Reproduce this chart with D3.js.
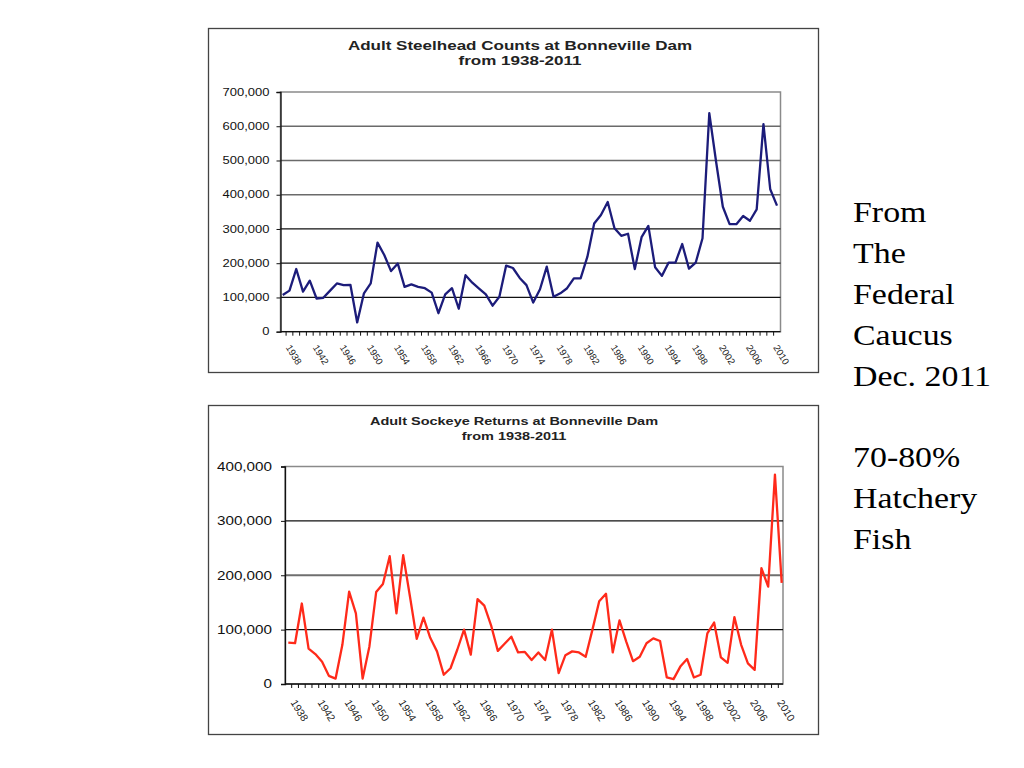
<!DOCTYPE html>
<html><head><meta charset="utf-8">
<script src="https://cdn.jsdelivr.net/npm/d3@7"></script>
<style>body{margin:0;background:#fff}svg{display:block}</style>
</head><body><svg id="c" width="1024" height="768"></svg>
<script>
// ---------- DATA ----------
const years = [1938,1939,1940,1941,1942,1943,1944,1945,1946,1947,1948,1949,
  1950,1951,1952,1953,1954,1955,1956,1957,1958,1959,
  1960,1961,1962,1963,1964,1965,1966,1967,1968,1969,
  1970,1971,1972,1973,1974,1975,1976,1977,1978,1979,
  1980,1981,1982,1983,1984,1985,1986,1987,1988,1989,
  1990,1991,1992,1993,1994,1995,1996,1997,1998,1999,
  2000,2001,2002,2003,2004,2005,2006,2007,2008,2009,
  2010,2011];
const steelhead = [107000,120000,183000,117000,149000,97000,99000,120000,141000,136000,137000,27000,
  112000,141000,260000,224000,177000,199000,131000,138000,131000,127000,
  114000,54000,109000,127000,67000,165000,143000,126000,109000,76000,
  102000,193000,186000,157000,136000,85000,124000,190000,102000,112000,
  127000,156000,156000,219000,316000,341000,379000,302000,280000,286000,
  183000,276000,309000,188000,163000,202000,202000,256000,184000,202000,
  273000,638000,497000,365000,314000,314000,338000,324000,357000,606000,
  416000,368000];
const sockeye = [76000,75000,148000,65000,55000,41000,15000,10000,72000,170000,130000,10000,
  69000,169000,184000,235000,130000,237000,161000,83000,122000,85000,
  60000,17000,29000,63000,100000,54000,156000,144000,108000,61000,
  74000,87000,58000,59000,44000,58000,44000,100000,20000,53000,
  60000,58000,50000,100000,152000,166000,58000,117000,78000,42000,
  50000,75000,84000,79000,12000,9000,32000,46000,12000,17000,
  93000,113000,49000,39000,123000,72000,38000,26000,213000,179000,
  385000,186000];
const steelheadTicks = [0,100000,200000,300000,400000,500000,600000,700000];
const sockeyeTicks = [0,100000,200000,300000,400000];
const yearLabels = [1938,1942,1946,1950,1954,1958,1962,1966,1970,1974,1978,1982,1986,1990,1994,1998,2002,2006,2010];
const steelheadTitle = ["Adult Steelhead Counts at Bonneville Dam","from 1938-2011"];
const sockeyeTitle = ["Adult Sockeye Returns at Bonneville Dam","from 1938-2011"];
const noteLines = ["From","The","Federal","Caucus","Dec. 2011","","70-80%","Hatchery","Fish"];

// ---------- DRAW ----------
const svg = d3.select("#c");
const fmt = d3.format(",");

function drawChart(c) {
  const g = svg.append("g");
  g.append("rect").attr("x", c.frame[0]+0.5).attr("y", c.frame[1]+0.5)
    .attr("width", c.frame[2]).attr("height", c.frame[3])
    .attr("fill", "#fff").attr("stroke", "#444").attr("stroke-width", 1.3);

  const x = d3.scalePoint().domain(years).range(c.pointRange);
  const y = d3.scaleLinear().domain([0, d3.max(c.ticks)]).range([c.plot.b, c.plot.t]);
  const step = x.step();

  g.append("rect").attr("x", c.plot.l).attr("y", c.plot.t)
    .attr("width", c.plot.r - c.plot.l).attr("height", c.plot.b - c.plot.t)
    .attr("fill", "none").attr("stroke", "#8a8a8a").attr("stroke-width", 1.5);

  g.selectAll(".grid").data(c.ticks.filter(t => t > 0 && t < d3.max(c.ticks))).enter()
    .append("line")
    .attr("x1", c.plot.l).attr("x2", c.plot.r)
    .attr("y1", d => y(d)).attr("y2", d => y(d))
    .attr("stroke", d => c.gridColor(d)).attr("stroke-width", d => c.gridWidth(d));

  const yAxis = d3.axisLeft(y).tickValues(c.ticks).tickSize(4).tickFormat("");
  const ya = g.append("g").attr("transform", `translate(${c.plot.l},0)`).call(yAxis);
  ya.select(".domain").attr("stroke", "#111").attr("stroke-width", 1.3);
  ya.selectAll(".tick line").attr("stroke", "#111");
  g.selectAll(".ylab").data(c.ticks).enter().append("text")
    .attr("transform", d => `translate(${c.plot.l - c.yLabGap},${y(d)}) scale(${c.yLabScale},1)`)
    .attr("text-anchor", "end").attr("dy", "0.36em")
    .style("font-family", "Liberation Sans, Arial, sans-serif")
    .style("font-size", c.yLabSize + "px").attr("fill", "#111")
    .text(d => fmt(d));

  g.append("line").attr("x1", c.plot.l).attr("x2", c.plot.r)
    .attr("y1", c.plot.b).attr("y2", c.plot.b).attr("stroke", "#111").attr("stroke-width", 1.3);
  const tickXs = years.map(yr => x(yr) + step / 2).filter(v => v < c.plot.r - 1);
  g.selectAll(".xt").data(tickXs).enter().append("line")
    .attr("x1", d => d).attr("x2", d => d)
    .attr("y1", c.plot.b).attr("y2", c.plot.b + 4).attr("stroke", "#111").attr("stroke-width", 1);

  g.selectAll(".xlab").data(yearLabels).enter().append("text")
    .attr("transform", d => `translate(${x(d) + c.xLabDx},${c.plot.b + c.xLabDy}) rotate(58)`)
    .attr("text-anchor", "start").attr("dy", "0.35em")
    .style("font-family", "Liberation Sans, Arial, sans-serif")
    .style("font-size", c.xLabSize + "px").attr("fill", "#222")
    .text(d => d);

  const line = d3.line().x((d, i) => x(years[i])).y(d => y(d));
  g.append("path").datum(c.values).attr("d", line)
    .attr("fill", "none").attr("stroke", c.color).attr("stroke-width", 2.3)
    .attr("stroke-linejoin", "round");

  c.title.forEach((t, i) => {
    g.append("text")
      .attr("transform", `translate(${c.titleX},${c.titleY + i * c.titleLead}) scale(${c.titleScale},1)`)
      .attr("text-anchor", "middle")
      .style("font-family", "Liberation Sans, Arial, sans-serif")
      .style("font-weight", "bold").style("font-size", c.titleSize + "px").attr("fill", "#222")
      .text(t);
  });
}

drawChart({
  frame: [208, 28, 610, 344],
  plot: {l: 280.5, r: 780.5, t: 92, b: 331.7},
  pointRange: [282.7, 777],
  ticks: steelheadTicks, values: steelhead, color: "#1c1c7a",
  gridColor: d => d >= 400000 ? "#6a6a6a" : "#111", gridWidth: d => 1.3,
  yLabGap: 11, yLabScale: 1.3, yLabSize: 10,
  xLabDx: 5.5, xLabDy: 14, xLabSize: 9.5,
  title: steelheadTitle, titleX: 520, titleY: 50, titleLead: 15, titleSize: 12, titleScale: 1.42
});

drawChart({
  frame: [208, 405, 610, 329],
  plot: {l: 285, r: 783, t: 466.5, b: 684},
  pointRange: [288.3, 781.7],
  ticks: sockeyeTicks, values: sockeye, color: "#ff2a1a",
  gridColor: d => d === 200000 ? "#6f6f6f" : "#111", gridWidth: d => d === 200000 ? 2 : 1.3,
  yLabGap: 13, yLabScale: 1.27, yLabSize: 12,
  xLabDx: 5, xLabDy: 16.5, xLabSize: 10.5,
  title: sockeyeTitle, titleX: 514, titleY: 425, titleLead: 15, titleSize: 10, titleScale: 1.45
});

svg.append("g").selectAll("text").data(noteLines).enter().append("text")
  .attr("transform", (d, i) => `translate(853,${222 + i * 40.9}) scale(1.13,1)`)
  .style("font-family", "Liberation Serif, 'Times New Roman', serif")
  .style("font-size", "30px").attr("fill", "#000")
  .text(d => d);
</script>
</body></html>
